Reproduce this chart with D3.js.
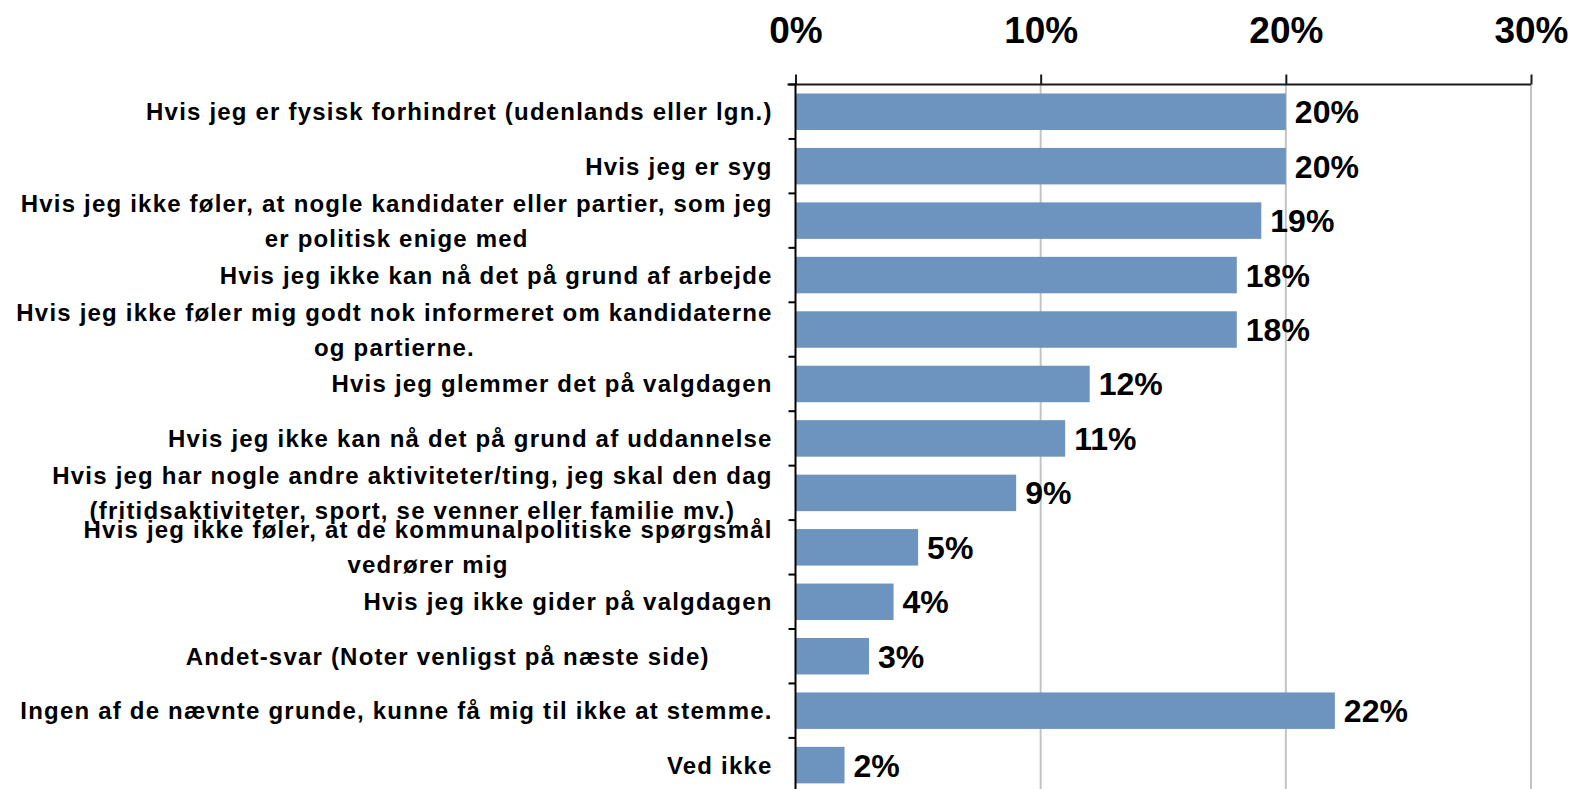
<!DOCTYPE html>
<html>
<head>
<meta charset="utf-8">
<script src="https://cdn.jsdelivr.net/npm/d3@7"></script>
<style>
  html, body { margin: 0; padding: 0; background: #ffffff; }
  svg { display: block; }
</style>
</head>
<body>
<svg id="chart" width="1573" height="789"></svg>
<script>
// ---- data ----
const categories = [
  "Hvis jeg er fysisk forhindret (udenlands eller lgn.)",
  "Hvis jeg er syg",
  "Hvis jeg ikke føler, at nogle kandidater eller partier, som jeg\ner politisk enige med",
  "Hvis jeg ikke kan nå det på grund af arbejde",
  "Hvis jeg ikke føler mig godt nok informeret om kandidaterne\nog partierne.",
  "Hvis jeg glemmer det på valgdagen",
  "Hvis jeg ikke kan nå det på grund af uddannelse",
  "Hvis jeg har nogle andre aktiviteter/ting, jeg skal den dag\n(fritidsaktiviteter, sport, se venner eller familie mv.)",
  "Hvis jeg ikke føler, at de kommunalpolitiske spørgsmål\nvedrører mig",
  "Hvis jeg ikke gider på valgdagen",
  "Andet-svar (Noter venligst på næste side)\u00a0\u00a0\u00a0\u00a0\u00a0\u00a0\u00a0\u00a0",
  "Ingen af de nævnte grunde, kunne få mig til ikke at stemme.",
  "Ved ikke"
];
const values = [20, 20, 19, 18, 18, 12, 11, 9, 5, 4, 3, 22, 2];
const tickValues = [0, 10, 20, 30];
const tickLabels = ["0%", "10%", "20%", "30%"];

// ---- layout ----
const FONT = "'Liberation Sans', Arial, Helvetica, sans-serif";
const svg = d3.select("#chart");
const axisY = 84.5;
const step = 54.45;
const labelRight = 772;

const x = d3.scaleLinear().domain([0, 30]).range([795.5, 1531]);
const y = d3.scaleBand()
  .domain(categories)
  .range([axisY, axisY + step * categories.length])
  .paddingInner(0.33)
  .paddingOuter(0.165);
const half = y.step() * 0.33 / 2;

// gridlines
svg.append("g").selectAll("line")
  .data(tickValues.filter(d => d > 0))
  .join("line")
  .attr("x1", d => x(d)).attr("x2", d => x(d))
  .attr("y1", axisY).attr("y2", 789)
  .attr("stroke", "#c4c4c4").attr("stroke-width", 2);

// bars
svg.append("g").selectAll("rect")
  .data(values)
  .join("rect")
  .attr("x", x(0) + 0.5)
  .attr("y", (d, i) => y(categories[i]))
  .attr("width", d => x(d) - x(0) - 0.5)
  .attr("height", y.bandwidth())
  .attr("fill", "#6d94bf");

// top axis
const xAxis = d3.axisTop(x)
  .tickValues(tickValues)
  .tickFormat((d, i) => tickLabels[i])
  .tickSizeInner(10)
  .tickSizeOuter(0)
  .tickPadding(31.8);
const gx = svg.append("g").attr("transform", `translate(0,${axisY})`).call(xAxis);
gx.select(".domain").attr("stroke", "#1a1a1a").attr("stroke-width", 2)
  .attr("d", `M${x(0) - 8},0H${x(30)}`);
gx.selectAll(".tick line").attr("stroke", "#1a1a1a").attr("stroke-width", 2);
gx.selectAll(".tick text")
  .attr("fill", "#000")
  .style("font-family", FONT)
  .style("font-size", "37px")
  .style("font-weight", "bold");

// left axis line
svg.append("line")
  .attr("x1", x(0)).attr("x2", x(0))
  .attr("y1", axisY - 1).attr("y2", 789)
  .attr("stroke", "#000").attr("stroke-width", 2);

// category boundary ticks
svg.append("g").selectAll("line")
  .data(categories)
  .join("line")
  .attr("x1", x(0) - 7).attr("x2", x(0))
  .attr("y1", d => y(d) - half)
  .attr("y2", d => y(d) - half)
  .attr("stroke", "#000").attr("stroke-width", 2);

// category labels
const lineGap = 35;
const gl = svg.append("g");
categories.forEach((cat) => {
  const lines = cat.split("\n");
  const cy = y(cat) + y.bandwidth() / 2;
  const t = gl.append("text")
    .attr("fill", "#000")
    .style("font-family", FONT)
    .style("font-size", "24px")
    .style("font-weight", "bold")
    .style("letter-spacing", "1.2px")
    .attr("text-anchor", "middle");
  lines.forEach((ln, j) => {
    t.append("tspan")
      .attr("x", 0)
      .attr("y", cy + 8.5 + (j - (lines.length - 1) / 2) * lineGap)
      .text(ln);
  });
  const w = t.node().getBBox().width;
  t.selectAll("tspan").attr("x", labelRight - w / 2 + 0.6);
});

// value labels
svg.append("g").selectAll("text")
  .data(values)
  .join("text")
  .attr("x", d => x(d) + 9)
  .attr("y", (d, i) => y(categories[i]) + y.bandwidth() / 2 + 11.5)
  .attr("fill", "#000")
  .style("font-family", FONT)
  .style("font-size", "32px")
  .style("font-weight", "bold")
  .text(d => d + "%");
</script>
</body>
</html>
